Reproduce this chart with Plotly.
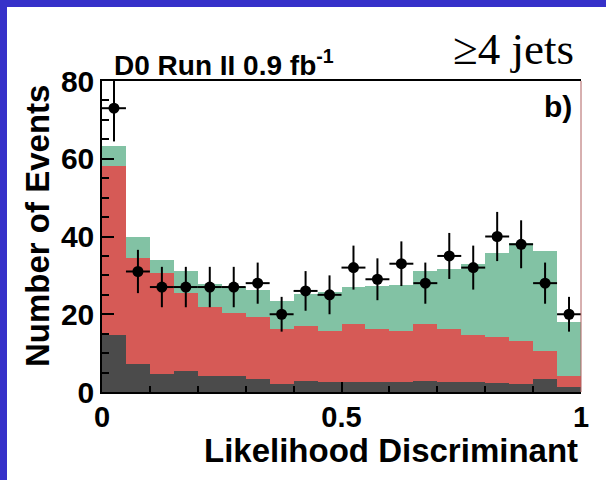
import numpy as np
import plotly.graph_objects as go

# Likelihood discriminant, >=4 jets channel: 20 bins on [0, 1]
bin_lo = [0.00, 0.05, 0.10, 0.15, 0.20, 0.25, 0.30, 0.35, 0.40, 0.45,
          0.50, 0.55, 0.60, 0.65, 0.70, 0.75, 0.80, 0.85, 0.90, 0.95]
bin_width = 0.05

# Expected yields per process (stacked from the bottom)
multijet = [14.6, 7.2, 4.6, 5.3, 4.0, 4.0, 3.3, 2.1, 2.9, 2.6,
            2.6, 2.7, 2.5, 2.9, 2.5, 2.5, 2.3, 2.1, 3.3, 1.3]
wjets = [43.5, 27.2, 25.9, 20.1, 17.8, 16.3, 16.1, 14.1, 14.1, 13.2,
         14.9, 13.5, 13.3, 14.5, 13.7, 12.1, 11.8, 10.9, 7.3, 2.9]
ttbar = [5.3, 5.6, 3.4, 5.7, 6.0, 6.6, 6.9, 7.2, 8.1, 9.8,
         9.4, 11.1, 11.8, 13.7, 15.4, 18.3, 21.6, 25.3, 25.8, 13.7]

# Observed events
data = [73, 31, 27, 27, 27, 27, 28, 20, 26, 25,
        32, 29, 33, 28, 35, 32, 40, 38, 28, 20]

x_ticks = [0, 0.5, 1]
x_tick_text = ["0", "0.5", "1"]
y_ticks = [0, 20, 40, 60, 80]

centers = [lo + bin_width / 2 for lo in bin_lo]
data_err = [float(np.sqrt(n)) for n in data]

W, H = 606, 480
ML, MR, MT, MB = 102, 25, 81, 88
PW, PH = W - ML - MR, H - MT - MB


def px_x(p):
    return (p - ML) / PW


def px_y(p):
    return (H - MB - p) / PH


BOLD = dict(family="Liberation Sans, Arial, sans-serif", color="black", weight="bold")

fig = go.Figure()

for name, vals, col in [("Multijet", multijet, "#4b4b4b"),
                        ("W+jets", wjets, "#d65a56"),
                        ("ttbar", ttbar, "#82c2a4")]:
    fig.add_trace(go.Bar(x=centers, y=vals, width=bin_width, name=name,
                         marker=dict(color=col, line=dict(width=0)),
                         showlegend=False))

fig.add_trace(go.Scatter(
    x=centers, y=data, mode="markers", name="Data", showlegend=False,
    marker=dict(color="black", size=11),
    error_y=dict(type="data", array=data_err, color="black", thickness=2, width=0),
    error_x=dict(type="constant", value=bin_width / 2, color="black", thickness=2, width=0),
))

fig.update_layout(
    width=W, height=H,
    margin=dict(l=ML, r=MR, t=MT, b=MB, autoexpand=False),
    paper_bgcolor="white", plot_bgcolor="white",
    barmode="stack", bargap=0,
    xaxis=dict(range=[0, 1], tickvals=x_ticks, ticktext=x_tick_text,
               ticks="inside", ticklen=10, tickwidth=1.5, tickcolor="black",
               minor=dict(dtick=0.1, ticks="inside", ticklen=6, tickwidth=1.5, tickcolor="black"),
               showline=True, linecolor="black", linewidth=1.5, mirror=True,
               showgrid=False, zeroline=False, layer="above traces",
               ticklabelstandoff=-2,
               tickfont=dict(size=29, **BOLD)),
    yaxis=dict(range=[0, 80], tickvals=y_ticks,
               ticks="inside", ticklen=12, tickwidth=1.5, tickcolor="black",
               minor=dict(dtick=5, ticks="inside", ticklen=7, tickwidth=1.5, tickcolor="black"),
               showline=True, linecolor="black", linewidth=1.5,
               showgrid=False, zeroline=False, layer="above traces",
               tickfont=dict(size=30, **BOLD)),
)

# right-hand frame edge
fig.add_shape(type="line", xref="paper", yref="paper", x0=1, x1=1, y0=0, y1=1,
              line=dict(color="#b06060", width=1))

# blue slide border along top and left
fig.add_shape(type="rect", xref="paper", yref="paper", layer="above",
              x0=px_x(0), x1=px_x(W), y0=px_y(7), y1=px_y(0),
              fillcolor="#3631c9", line=dict(width=0))
fig.add_shape(type="rect", xref="paper", yref="paper", layer="above",
              x0=px_x(0), x1=px_x(7), y0=px_y(H), y1=px_y(0),
              fillcolor="#3631c9", line=dict(width=0))

fig.add_annotation(text="Number of Events", textangle=-90, showarrow=False,
                   xref="paper", yref="paper", x=px_x(37), y=px_y(226),
                   xanchor="center", yanchor="middle", font=dict(size=33, **BOLD))
fig.add_annotation(text="Likelihood Discriminant", showarrow=False,
                   xref="paper", yref="paper", x=px_x(580), y=px_y(450),
                   xanchor="right", yanchor="middle", font=dict(size=33, **BOLD))
fig.add_annotation(text="D0 Run II 0.9 fb<sup>-1</sup>", showarrow=False,
                   xref="paper", yref="paper", x=px_x(112), y=px_y(63),
                   xanchor="left", yanchor="middle", font=dict(size=28, **BOLD))
fig.add_annotation(text="\u22654 jets", showarrow=False,
                   xref="paper", yref="paper", x=px_x(576), y=px_y(49),
                   xanchor="right", yanchor="middle",
                   font=dict(size=45, family="Liberation Serif, Times New Roman, serif", color="black"))
fig.add_annotation(text="b)", showarrow=False,
                   xref="paper", yref="paper", x=px_x(574), y=px_y(106),
                   xanchor="right", yanchor="middle", font=dict(size=30, **BOLD))

fig.write_html("out.html")
